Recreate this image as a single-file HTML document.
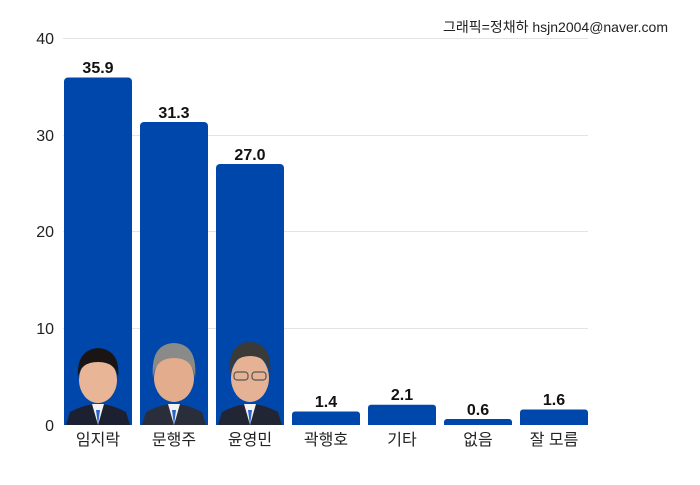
<!DOCTYPE html>
<html><head><meta charset="utf-8"><style>
body{margin:0;background:#fff;}
text{font-family:"Liberation Sans","Noto Sans CJK KR",sans-serif;}
</style></head><body>
<svg width="700" height="480" xmlns="http://www.w3.org/2000/svg">
<rect width="700" height="480" fill="#fff"/>
<text x="668" y="32" font-size="14" text-anchor="end" fill="#222">그래픽=정채하 hsjn2004@naver.com</text>
<g stroke="#e3e3e3" stroke-width="1">
<line x1="63" x2="588" y1="38.5" y2="38.5"/>
<line x1="63" x2="588" y1="135.5" y2="135.5"/>
<line x1="63" x2="588" y1="231.5" y2="231.5"/>
<line x1="63" x2="588" y1="328.5" y2="328.5"/>
</g>
<g fill="#0047AB">
<rect x="64" y="77.5" width="68" height="360" rx="4"/>
<rect x="140" y="122" width="68" height="315" rx="4"/>
<rect x="216" y="164" width="68" height="273" rx="4"/>
<rect x="292" y="411.5" width="68" height="20" rx="3"/>
<rect x="368" y="404.7" width="68" height="30" rx="3"/>
<rect x="444" y="419" width="68" height="20" rx="3"/>
<rect x="520" y="409.5" width="68" height="30" rx="3"/>
</g>
<rect x="0" y="425" width="700" height="55" fill="#fff"/>
<g font-size="16" fill="#222" text-anchor="end">
<text x="54" y="44">40</text><text x="54" y="141">30</text><text x="54" y="237">20</text><text x="54" y="334">10</text><text x="54" y="431">0</text>
</g>
<g>
<path d="M66 425 L70 412 Q85 404 98 404 Q111 404 126 412 L130 425Z" fill="#1c2030"/>
<path d="M92 404 L98 425 L104 404Z" fill="#f2f2f2"/><path d="M96 410 L98 425 L100 410Z" fill="#2a62c8"/>
<ellipse cx="98" cy="380" rx="19" ry="23" fill="#e8b596"/>
<path d="M78 378 Q76 350 98 348 Q121 350 118 378 Q116 362 98 362 Q80 362 78 378Z" fill="#1a1515"/>
<path d="M142 425 L146 412 Q161 404 174 404 Q187 404 202 412 L206 425Z" fill="#2a2e3a"/>
<path d="M168 404 L174 425 L180 404Z" fill="#f2f2f2"/><path d="M172 410 L174 425 L176 410Z" fill="#2a62c8"/>
<ellipse cx="174" cy="378" rx="20" ry="24" fill="#e3ac8c"/>
<path d="M153 378 Q150 344 174 343 Q198 344 195 378 Q193 358 174 358 Q155 358 153 378Z" fill="#8a8a88"/>
<path d="M218 425 L222 412 Q237 404 250 404 Q263 404 278 412 L282 425Z" fill="#222634"/>
<path d="M244 404 L250 425 L256 404Z" fill="#f2f2f2"/><path d="M248 410 L250 425 L252 410Z" fill="#2a62c8"/>
<ellipse cx="250" cy="378" rx="19" ry="24" fill="#e5b295"/>
<path d="M230 376 Q227 343 250 342 Q273 343 270 376 Q268 356 250 356 Q232 356 230 376Z" fill="#3a3a38"/>
<rect x="234" y="372" width="14" height="8" rx="3" fill="none" stroke="#555" stroke-width="1.2"/>
<rect x="252" y="372" width="14" height="8" rx="3" fill="none" stroke="#555" stroke-width="1.2"/>
</g>
<g font-size="16" font-weight="bold" fill="#111" text-anchor="middle">
<text x="98" y="73">35.9</text><text x="174" y="118">31.3</text><text x="250" y="160">27.0</text>
<text x="326" y="407">1.4</text><text x="402" y="400">2.1</text><text x="478" y="415">0.6</text><text x="554" y="405">1.6</text>
</g>
<g font-size="16" fill="#222" text-anchor="middle">
<text x="98" y="445">임지락</text><text x="174" y="445">문행주</text><text x="250" y="445">윤영민</text>
<text x="326" y="445">곽행호</text><text x="402" y="445">기타</text><text x="478" y="445">없음</text><text x="554" y="445">잘 모름</text>
</g>
</svg>
</body></html>
